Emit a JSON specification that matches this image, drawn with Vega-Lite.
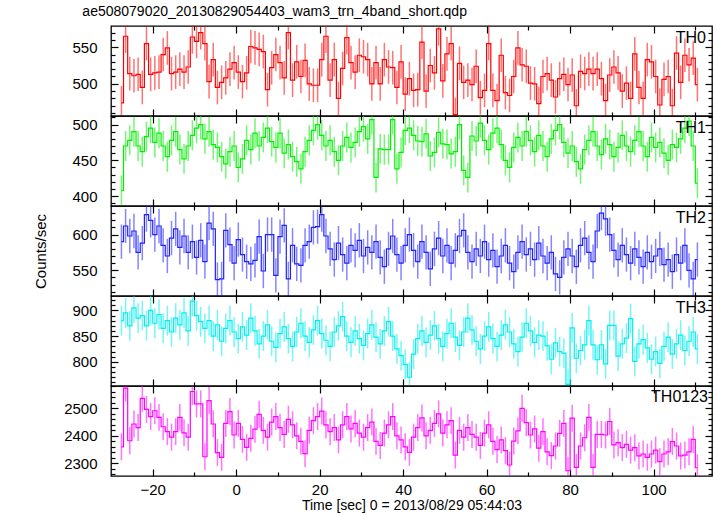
{
"$schema": "https://vega.github.io/schema/vega-lite/v6.json",
"autosize": {"type": "pad"},
"padding": {"left": 32, "top": 4, "right": 4, "bottom": 2},
"bounds": "flush",
"spacing": 0,
"title": {"text": "ae508079020_20130829054403_wam3_trn_4band_short.qdp", "anchor": "start", "frame": "bounds", "fontSize": 14, "fontWeight": "normal", "font": "Liberation Sans", "color": "black", "baseline": "alphabetic", "offset": -5, "dx": 50},
"config": {
  "view": {"stroke": "black", "strokeWidth": 1.3},
  "axis": {"labelFont": "Liberation Sans", "titleFont": "Liberation Sans", "labelColor": "black", "titleColor": "black", "tickColor": "black", "tickWidth": 1.2, "domain": false, "grid": false, "labelFontSize": 15, "titleFontSize": 15, "titleFontWeight": "normal"}
},
"datasets": {
"th0": [
{"t":-27.5,"v":474,"e":23},{"t":-26.5,"v":565,"e":23},{"t":-25.5,"v":514,"e":23},{"t":-24.5,"v":511,"e":23},{"t":-23.5,"v":513,"e":23},{"t":-22.5,"v":495,"e":23},{"t":-21.5,"v":555,"e":23},{"t":-20.5,"v":513,"e":23},{"t":-19.5,"v":515,"e":23},{"t":-18.5,"v":516,"e":23},
{"t":-17.5,"v":540,"e":23},{"t":-16.5,"v":549,"e":23},{"t":-15.5,"v":514,"e":23},{"t":-14.5,"v":516,"e":23},{"t":-13.5,"v":520,"e":23},{"t":-12.5,"v":516,"e":23},{"t":-11.5,"v":523,"e":23},{"t":-10.5,"v":564,"e":23},{"t":-9.5,"v":558,"e":23},{"t":-8.5,"v":570,"e":23},
{"t":-7.5,"v":555,"e":23},{"t":-6.5,"v":503,"e":23},{"t":-5.5,"v":533,"e":23},{"t":-4.5,"v":495,"e":23},{"t":-3.5,"v":502,"e":23},{"t":-2.5,"v":508,"e":23},{"t":-1.5,"v":520,"e":23},{"t":-0.5,"v":529,"e":23},{"t":0.5,"v":516,"e":23},{"t":1.5,"v":503,"e":23},
{"t":2.5,"v":515,"e":23},{"t":3.5,"v":551,"e":23},{"t":4.5,"v":549,"e":23},{"t":5.5,"v":547,"e":23},{"t":6.5,"v":544,"e":23},{"t":7.5,"v":492,"e":23},{"t":8.5,"v":522,"e":23},{"t":9.5,"v":540,"e":23},{"t":10.5,"v":529,"e":23},{"t":11.5,"v":508,"e":23},
{"t":12.5,"v":570,"e":23},{"t":13.5,"v":505,"e":23},{"t":14.5,"v":530,"e":23},{"t":15.5,"v":510,"e":23},{"t":16.5,"v":532,"e":23},{"t":17.5,"v":500,"e":23},{"t":18.5,"v":498,"e":23},{"t":19.5,"v":498,"e":23},{"t":20.5,"v":533,"e":23},{"t":21.5,"v":565,"e":23},
{"t":22.5,"v":505,"e":23},{"t":23.5,"v":533,"e":23},{"t":24.5,"v":480,"e":23},{"t":25.5,"v":521,"e":23},{"t":26.5,"v":563,"e":23},{"t":27.5,"v":529,"e":23},{"t":28.5,"v":516,"e":23},{"t":29.5,"v":539,"e":23},{"t":30.5,"v":537,"e":23},{"t":31.5,"v":533,"e":23},
{"t":32.5,"v":500,"e":23},{"t":33.5,"v":529,"e":23},{"t":34.5,"v":500,"e":23},{"t":35.5,"v":533,"e":23},{"t":36.5,"v":523,"e":23},{"t":37.5,"v":522,"e":23},{"t":38.5,"v":495,"e":23},{"t":39.5,"v":530,"e":23},{"t":40.5,"v":486,"e":23},{"t":41.5,"v":507,"e":23},
{"t":42.5,"v":491,"e":23},{"t":43.5,"v":492,"e":23},{"t":44.5,"v":557,"e":23},{"t":45.5,"v":490,"e":23},{"t":46.5,"v":525,"e":23},{"t":47.5,"v":515,"e":23},{"t":48.5,"v":575,"e":23},{"t":49.5,"v":504,"e":23},{"t":50.5,"v":541,"e":23},{"t":51.5,"v":555,"e":23},
{"t":52.5,"v":458,"e":23},{"t":53.5,"v":528,"e":23},{"t":54.5,"v":502,"e":23},{"t":55.5,"v":505,"e":23},{"t":56.5,"v":499,"e":23},{"t":57.5,"v":524,"e":23},{"t":58.5,"v":481,"e":23},{"t":59.5,"v":491,"e":23},{"t":60.5,"v":555,"e":23},{"t":61.5,"v":491,"e":23},
{"t":62.5,"v":477,"e":23},{"t":63.5,"v":539,"e":23},{"t":64.5,"v":488,"e":23},{"t":65.5,"v":484,"e":23},{"t":66.5,"v":510,"e":23},{"t":67.5,"v":549,"e":23},{"t":68.5,"v":526,"e":23},{"t":69.5,"v":524,"e":23},{"t":70.5,"v":501,"e":23},{"t":71.5,"v":500,"e":23},
{"t":72.5,"v":473,"e":23},{"t":73.5,"v":510,"e":23},{"t":74.5,"v":514,"e":23},{"t":75.5,"v":505,"e":23},{"t":76.5,"v":482,"e":23},{"t":77.5,"v":507,"e":23},{"t":78.5,"v":513,"e":23},{"t":79.5,"v":499,"e":23},{"t":80.5,"v":512,"e":23},{"t":81.5,"v":470,"e":23},
{"t":82.5,"v":517,"e":23},{"t":83.5,"v":514,"e":23},{"t":84.5,"v":520,"e":23},{"t":85.5,"v":514,"e":23},{"t":86.5,"v":520,"e":23},{"t":87.5,"v":507,"e":23},{"t":88.5,"v":477,"e":23},{"t":89.5,"v":512,"e":23},{"t":90.5,"v":523,"e":23},{"t":91.5,"v":515,"e":23},
{"t":92.5,"v":490,"e":23},{"t":93.5,"v":501,"e":23},{"t":94.5,"v":480,"e":23},{"t":95.5,"v":541,"e":23},{"t":96.5,"v":495,"e":23},{"t":97.5,"v":480,"e":23},{"t":98.5,"v":533,"e":23},{"t":99.5,"v":530,"e":23},{"t":100.5,"v":510,"e":23},{"t":101.5,"v":471,"e":23},
{"t":102.5,"v":506,"e":23},{"t":103.5,"v":510,"e":23},{"t":104.5,"v":470,"e":23},{"t":105.5,"v":542,"e":23},{"t":106.5,"v":502,"e":23},{"t":107.5,"v":539,"e":23},{"t":108.5,"v":526,"e":23},{"t":109.5,"v":535,"e":23},{"t":110.5,"v":499,"e":23}
],
"th1": [
{"t":-27.5,"v":408,"e":21},{"t":-26.5,"v":470,"e":21},{"t":-25.5,"v":478,"e":21},{"t":-24.5,"v":490,"e":21},{"t":-23.5,"v":470,"e":21},{"t":-22.5,"v":462,"e":21},{"t":-21.5,"v":483,"e":21},{"t":-20.5,"v":495,"e":21},{"t":-19.5,"v":475,"e":21},{"t":-18.5,"v":488,"e":21},
{"t":-17.5,"v":470,"e":21},{"t":-16.5,"v":455,"e":21},{"t":-15.5,"v":478,"e":21},{"t":-14.5,"v":490,"e":21},{"t":-13.5,"v":465,"e":21},{"t":-12.5,"v":452,"e":21},{"t":-11.5,"v":470,"e":21},{"t":-10.5,"v":485,"e":21},{"t":-9.5,"v":495,"e":21},{"t":-8.5,"v":500,"e":21},
{"t":-7.5,"v":480,"e":21},{"t":-6.5,"v":490,"e":21},{"t":-5.5,"v":472,"e":21},{"t":-4.5,"v":468,"e":21},{"t":-3.5,"v":455,"e":21},{"t":-2.5,"v":445,"e":21},{"t":-1.5,"v":462,"e":21},{"t":-0.5,"v":470,"e":21},{"t":0.5,"v":440,"e":21},{"t":1.5,"v":452,"e":21},
{"t":2.5,"v":478,"e":21},{"t":3.5,"v":465,"e":21},{"t":4.5,"v":488,"e":21},{"t":5.5,"v":470,"e":21},{"t":6.5,"v":482,"e":21},{"t":7.5,"v":495,"e":21},{"t":8.5,"v":476,"e":21},{"t":9.5,"v":468,"e":21},{"t":10.5,"v":488,"e":21},{"t":11.5,"v":460,"e":21},
{"t":12.5,"v":472,"e":21},{"t":13.5,"v":455,"e":21},{"t":14.5,"v":448,"e":21},{"t":15.5,"v":438,"e":21},{"t":16.5,"v":462,"e":21},{"t":17.5,"v":478,"e":21},{"t":18.5,"v":492,"e":21},{"t":19.5,"v":500,"e":21},{"t":20.5,"v":485,"e":21},{"t":21.5,"v":470,"e":21},
{"t":22.5,"v":478,"e":21},{"t":23.5,"v":462,"e":21},{"t":24.5,"v":450,"e":21},{"t":25.5,"v":470,"e":21},{"t":26.5,"v":482,"e":21},{"t":27.5,"v":468,"e":21},{"t":28.5,"v":475,"e":21},{"t":29.5,"v":490,"e":21},{"t":30.5,"v":497,"e":21},{"t":31.5,"v":480,"e":21},
{"t":32.5,"v":507,"e":21},{"t":33.5,"v":426,"e":21},{"t":34.5,"v":466,"e":21},{"t":35.5,"v":465,"e":21},{"t":36.5,"v":465,"e":21},{"t":37.5,"v":507,"e":21},{"t":38.5,"v":438,"e":21},{"t":39.5,"v":461,"e":21},{"t":40.5,"v":492,"e":21},{"t":41.5,"v":495,"e":21},
{"t":42.5,"v":485,"e":21},{"t":43.5,"v":477,"e":21},{"t":44.5,"v":476,"e":21},{"t":45.5,"v":487,"e":21},{"t":46.5,"v":456,"e":21},{"t":47.5,"v":461,"e":21},{"t":48.5,"v":489,"e":21},{"t":49.5,"v":473,"e":21},{"t":50.5,"v":472,"e":21},{"t":51.5,"v":459,"e":21},
{"t":52.5,"v":462,"e":21},{"t":53.5,"v":500,"e":21},{"t":54.5,"v":436,"e":21},{"t":55.5,"v":426,"e":21},{"t":56.5,"v":484,"e":21},{"t":57.5,"v":477,"e":21},{"t":58.5,"v":502,"e":21},{"t":59.5,"v":478,"e":21},{"t":60.5,"v":465,"e":21},{"t":61.5,"v":488,"e":21},
{"t":62.5,"v":495,"e":21},{"t":63.5,"v":472,"e":21},{"t":64.5,"v":450,"e":21},{"t":65.5,"v":440,"e":21},{"t":66.5,"v":468,"e":21},{"t":67.5,"v":482,"e":21},{"t":68.5,"v":470,"e":21},{"t":69.5,"v":490,"e":21},{"t":70.5,"v":478,"e":21},{"t":71.5,"v":462,"e":21},
{"t":72.5,"v":485,"e":21},{"t":73.5,"v":470,"e":21},{"t":74.5,"v":455,"e":21},{"t":75.5,"v":480,"e":21},{"t":76.5,"v":492,"e":21},{"t":77.5,"v":500,"e":21},{"t":78.5,"v":475,"e":21},{"t":79.5,"v":460,"e":21},{"t":80.5,"v":470,"e":21},{"t":81.5,"v":448,"e":21},
{"t":82.5,"v":438,"e":21},{"t":83.5,"v":465,"e":21},{"t":84.5,"v":478,"e":21},{"t":85.5,"v":490,"e":21},{"t":86.5,"v":470,"e":21},{"t":87.5,"v":458,"e":21},{"t":88.5,"v":480,"e":21},{"t":89.5,"v":472,"e":21},{"t":90.5,"v":455,"e":21},{"t":91.5,"v":468,"e":21},
{"t":92.5,"v":485,"e":21},{"t":93.5,"v":470,"e":21},{"t":94.5,"v":462,"e":21},{"t":95.5,"v":478,"e":21},{"t":96.5,"v":490,"e":21},{"t":97.5,"v":470,"e":21},{"t":98.5,"v":455,"e":21},{"t":99.5,"v":482,"e":21},{"t":100.5,"v":468,"e":21},{"t":101.5,"v":475,"e":21},
{"t":102.5,"v":460,"e":21},{"t":103.5,"v":450,"e":21},{"t":104.5,"v":472,"e":21},{"t":105.5,"v":468,"e":21},{"t":106.5,"v":480,"e":21},{"t":107.5,"v":495,"e":21},{"t":108.5,"v":505,"e":21},{"t":109.5,"v":470,"e":21},{"t":110.5,"v":418,"e":21}
],
"th2": [
{"t":-27.5,"v":590,"e":24},{"t":-26.5,"v":612,"e":24},{"t":-25.5,"v":598,"e":24},{"t":-24.5,"v":605,"e":24},{"t":-23.5,"v":575,"e":24},{"t":-22.5,"v":588,"e":24},{"t":-21.5,"v":628,"e":24},{"t":-20.5,"v":620,"e":24},{"t":-19.5,"v":600,"e":24},{"t":-18.5,"v":612,"e":24},
{"t":-17.5,"v":585,"e":24},{"t":-16.5,"v":570,"e":24},{"t":-15.5,"v":595,"e":24},{"t":-14.5,"v":608,"e":24},{"t":-13.5,"v":582,"e":24},{"t":-12.5,"v":598,"e":24},{"t":-11.5,"v":575,"e":24},{"t":-10.5,"v":590,"e":24},{"t":-9.5,"v":568,"e":24},{"t":-8.5,"v":592,"e":24},
{"t":-7.5,"v":562,"e":24},{"t":-6.5,"v":616,"e":24},{"t":-5.5,"v":608,"e":24},{"t":-4.5,"v":537,"e":24},{"t":-3.5,"v":538,"e":24},{"t":-2.5,"v":606,"e":24},{"t":-1.5,"v":586,"e":24},{"t":-0.5,"v":560,"e":24},{"t":0.5,"v":593,"e":24},{"t":1.5,"v":572,"e":24},
{"t":2.5,"v":562,"e":24},{"t":3.5,"v":559,"e":24},{"t":4.5,"v":564,"e":24},{"t":5.5,"v":597,"e":24},{"t":6.5,"v":549,"e":24},{"t":7.5,"v":600,"e":24},{"t":8.5,"v":600,"e":24},{"t":9.5,"v":543,"e":24},{"t":10.5,"v":597,"e":24},{"t":11.5,"v":613,"e":24},
{"t":12.5,"v":538,"e":24},{"t":13.5,"v":585,"e":24},{"t":14.5,"v":559,"e":24},{"t":15.5,"v":557,"e":24},{"t":16.5,"v":585,"e":24},{"t":17.5,"v":590,"e":24},{"t":18.5,"v":610,"e":24},{"t":19.5,"v":611,"e":24},{"t":20.5,"v":628,"e":24},{"t":21.5,"v":598,"e":24},
{"t":22.5,"v":580,"e":24},{"t":23.5,"v":565,"e":24},{"t":24.5,"v":588,"e":24},{"t":25.5,"v":572,"e":24},{"t":26.5,"v":560,"e":24},{"t":27.5,"v":585,"e":24},{"t":28.5,"v":578,"e":24},{"t":29.5,"v":592,"e":24},{"t":30.5,"v":570,"e":24},{"t":31.5,"v":582,"e":24},
{"t":32.5,"v":575,"e":24},{"t":33.5,"v":590,"e":24},{"t":34.5,"v":568,"e":24},{"t":35.5,"v":555,"e":24},{"t":36.5,"v":580,"e":24},{"t":37.5,"v":598,"e":24},{"t":38.5,"v":572,"e":24},{"t":39.5,"v":560,"e":24},{"t":40.5,"v":585,"e":24},{"t":41.5,"v":600,"e":24},
{"t":42.5,"v":578,"e":24},{"t":43.5,"v":562,"e":24},{"t":44.5,"v":590,"e":24},{"t":45.5,"v":575,"e":24},{"t":46.5,"v":552,"e":24},{"t":47.5,"v":580,"e":24},{"t":48.5,"v":595,"e":24},{"t":49.5,"v":570,"e":24},{"t":50.5,"v":585,"e":24},{"t":51.5,"v":560,"e":24},
{"t":52.5,"v":578,"e":24},{"t":53.5,"v":598,"e":24},{"t":54.5,"v":606,"e":24},{"t":55.5,"v":575,"e":24},{"t":56.5,"v":562,"e":24},{"t":57.5,"v":580,"e":24},{"t":58.5,"v":570,"e":24},{"t":59.5,"v":590,"e":24},{"t":60.5,"v":565,"e":24},{"t":61.5,"v":578,"e":24},
{"t":62.5,"v":555,"e":24},{"t":63.5,"v":570,"e":24},{"t":64.5,"v":585,"e":24},{"t":65.5,"v":560,"e":24},{"t":66.5,"v":548,"e":24},{"t":67.5,"v":575,"e":24},{"t":68.5,"v":590,"e":24},{"t":69.5,"v":572,"e":24},{"t":70.5,"v":580,"e":24},{"t":71.5,"v":565,"e":24},
{"t":72.5,"v":588,"e":24},{"t":73.5,"v":570,"e":24},{"t":74.5,"v":560,"e":24},{"t":75.5,"v":575,"e":24},{"t":76.5,"v":545,"e":24},{"t":77.5,"v":540,"e":24},{"t":78.5,"v":568,"e":24},{"t":79.5,"v":580,"e":24},{"t":80.5,"v":570,"e":24},{"t":81.5,"v":555,"e":24},
{"t":82.5,"v":585,"e":24},{"t":83.5,"v":595,"e":24},{"t":84.5,"v":575,"e":24},{"t":85.5,"v":562,"e":24},{"t":86.5,"v":605,"e":24},{"t":87.5,"v":630,"e":24},{"t":88.5,"v":622,"e":24},{"t":89.5,"v":600,"e":24},{"t":90.5,"v":578,"e":24},{"t":91.5,"v":565,"e":24},
{"t":92.5,"v":585,"e":24},{"t":93.5,"v":572,"e":24},{"t":94.5,"v":560,"e":24},{"t":95.5,"v":580,"e":24},{"t":96.5,"v":568,"e":24},{"t":97.5,"v":555,"e":24},{"t":98.5,"v":575,"e":24},{"t":99.5,"v":562,"e":24},{"t":100.5,"v":570,"e":24},{"t":101.5,"v":580,"e":24},
{"t":102.5,"v":558,"e":24},{"t":103.5,"v":565,"e":24},{"t":104.5,"v":548,"e":24},{"t":105.5,"v":572,"e":24},{"t":106.5,"v":560,"e":24},{"t":107.5,"v":585,"e":24},{"t":108.5,"v":550,"e":24},{"t":109.5,"v":538,"e":24},{"t":110.5,"v":565,"e":24}
],
"th3": [
{"t":-27.5,"v":880,"e":29},{"t":-26.5,"v":895,"e":29},{"t":-25.5,"v":870,"e":29},{"t":-24.5,"v":905,"e":29},{"t":-23.5,"v":885,"e":29},{"t":-22.5,"v":890,"e":29},{"t":-21.5,"v":870,"e":29},{"t":-20.5,"v":900,"e":29},{"t":-19.5,"v":875,"e":29},{"t":-18.5,"v":892,"e":29},
{"t":-17.5,"v":865,"e":29},{"t":-16.5,"v":880,"e":29},{"t":-15.5,"v":858,"e":29},{"t":-14.5,"v":885,"e":29},{"t":-13.5,"v":872,"e":29},{"t":-12.5,"v":895,"e":29},{"t":-11.5,"v":860,"e":29},{"t":-10.5,"v":918,"e":29},{"t":-9.5,"v":890,"e":29},{"t":-8.5,"v":878,"e":29},
{"t":-7.5,"v":865,"e":29},{"t":-6.5,"v":880,"e":29},{"t":-5.5,"v":850,"e":29},{"t":-4.5,"v":872,"e":29},{"t":-3.5,"v":840,"e":29},{"t":-2.5,"v":865,"e":29},{"t":-1.5,"v":880,"e":29},{"t":-0.5,"v":858,"e":29},{"t":0.5,"v":845,"e":29},{"t":1.5,"v":868,"e":29},
{"t":2.5,"v":852,"e":29},{"t":3.5,"v":885,"e":29},{"t":4.5,"v":860,"e":29},{"t":5.5,"v":835,"e":29},{"t":6.5,"v":850,"e":29},{"t":7.5,"v":872,"e":29},{"t":8.5,"v":840,"e":29},{"t":9.5,"v":828,"e":29},{"t":10.5,"v":855,"e":29},{"t":11.5,"v":868,"e":29},
{"t":12.5,"v":845,"e":29},{"t":13.5,"v":830,"e":29},{"t":14.5,"v":858,"e":29},{"t":15.5,"v":875,"e":29},{"t":16.5,"v":850,"e":29},{"t":17.5,"v":838,"e":29},{"t":18.5,"v":862,"e":29},{"t":19.5,"v":880,"e":29},{"t":20.5,"v":855,"e":29},{"t":21.5,"v":842,"e":29},
{"t":22.5,"v":830,"e":29},{"t":23.5,"v":858,"e":29},{"t":24.5,"v":870,"e":29},{"t":25.5,"v":888,"e":29},{"t":26.5,"v":850,"e":29},{"t":27.5,"v":838,"e":29},{"t":28.5,"v":860,"e":29},{"t":29.5,"v":845,"e":29},{"t":30.5,"v":832,"e":29},{"t":31.5,"v":855,"e":29},
{"t":32.5,"v":872,"e":29},{"t":33.5,"v":848,"e":29},{"t":34.5,"v":835,"e":29},{"t":35.5,"v":860,"e":29},{"t":36.5,"v":878,"e":29},{"t":37.5,"v":850,"e":29},{"t":38.5,"v":825,"e":29},{"t":39.5,"v":812,"e":29},{"t":40.5,"v":795,"e":29},{"t":41.5,"v":770,"e":29},
{"t":42.5,"v":815,"e":29},{"t":43.5,"v":845,"e":29},{"t":44.5,"v":860,"e":29},{"t":45.5,"v":838,"e":29},{"t":46.5,"v":852,"e":29},{"t":47.5,"v":870,"e":29},{"t":48.5,"v":845,"e":29},{"t":49.5,"v":830,"e":29},{"t":50.5,"v":855,"e":29},{"t":51.5,"v":875,"e":29},
{"t":52.5,"v":848,"e":29},{"t":53.5,"v":832,"e":29},{"t":54.5,"v":858,"e":29},{"t":55.5,"v":885,"e":29},{"t":56.5,"v":862,"e":29},{"t":57.5,"v":840,"e":29},{"t":58.5,"v":825,"e":29},{"t":59.5,"v":850,"e":29},{"t":60.5,"v":868,"e":29},{"t":61.5,"v":845,"e":29},
{"t":62.5,"v":830,"e":29},{"t":63.5,"v":852,"e":29},{"t":64.5,"v":872,"e":29},{"t":65.5,"v":858,"e":29},{"t":66.5,"v":835,"e":29},{"t":67.5,"v":820,"e":29},{"t":68.5,"v":848,"e":29},{"t":69.5,"v":875,"e":29},{"t":70.5,"v":860,"e":29},{"t":71.5,"v":838,"e":29},
{"t":72.5,"v":852,"e":29},{"t":73.5,"v":850,"e":29},{"t":74.5,"v":831,"e":29},{"t":75.5,"v":805,"e":29},{"t":76.5,"v":837,"e":29},{"t":77.5,"v":820,"e":29},{"t":78.5,"v":817,"e":29},{"t":79.5,"v":756,"e":29},{"t":80.5,"v":866,"e":29},{"t":81.5,"v":807,"e":29},
{"t":82.5,"v":822,"e":29},{"t":83.5,"v":833,"e":29},{"t":84.5,"v":880,"e":29},{"t":85.5,"v":833,"e":29},{"t":86.5,"v":804,"e":29},{"t":87.5,"v":833,"e":29},{"t":88.5,"v":796,"e":29},{"t":89.5,"v":871,"e":29},{"t":90.5,"v":871,"e":29},{"t":91.5,"v":811,"e":29},
{"t":92.5,"v":835,"e":29},{"t":93.5,"v":846,"e":29},{"t":94.5,"v":884,"e":29},{"t":95.5,"v":801,"e":29},{"t":96.5,"v":835,"e":29},{"t":97.5,"v":843,"e":29},{"t":98.5,"v":827,"e":29},{"t":99.5,"v":805,"e":29},{"t":100.5,"v":820,"e":29},{"t":101.5,"v":797,"e":29},
{"t":102.5,"v":830,"e":29},{"t":103.5,"v":848,"e":29},{"t":104.5,"v":815,"e":29},{"t":105.5,"v":835,"e":29},{"t":106.5,"v":852,"e":29},{"t":107.5,"v":822,"e":29},{"t":108.5,"v":840,"e":29},{"t":109.5,"v":858,"e":29},{"t":110.5,"v":825,"e":29}
],
"th0123": [
{"t":-27.5,"v":2360,"e":49},{"t":-26.5,"v":2573,"e":49},{"t":-25.5,"v":2382,"e":49},{"t":-24.5,"v":2443,"e":49},{"t":-23.5,"v":2430,"e":49},{"t":-22.5,"v":2536,"e":49},{"t":-21.5,"v":2496,"e":49},{"t":-20.5,"v":2470,"e":49},{"t":-19.5,"v":2491,"e":49},{"t":-18.5,"v":2467,"e":49},
{"t":-17.5,"v":2433,"e":49},{"t":-16.5,"v":2415,"e":49},{"t":-15.5,"v":2395,"e":49},{"t":-14.5,"v":2415,"e":49},{"t":-13.5,"v":2467,"e":49},{"t":-12.5,"v":2411,"e":49},{"t":-11.5,"v":2395,"e":49},{"t":-10.5,"v":2561,"e":49},{"t":-9.5,"v":2516,"e":49},{"t":-8.5,"v":2516,"e":49},
{"t":-7.5,"v":2324,"e":49},{"t":-6.5,"v":2528,"e":49},{"t":-5.5,"v":2443,"e":49},{"t":-4.5,"v":2339,"e":49},{"t":-3.5,"v":2322,"e":49},{"t":-2.5,"v":2445,"e":49},{"t":-1.5,"v":2488,"e":49},{"t":-0.5,"v":2403,"e":49},{"t":0.5,"v":2445,"e":49},{"t":1.5,"v":2387,"e":49},
{"t":2.5,"v":2358,"e":49},{"t":3.5,"v":2391,"e":49},{"t":4.5,"v":2424,"e":49},{"t":5.5,"v":2478,"e":49},{"t":6.5,"v":2420,"e":49},{"t":7.5,"v":2395,"e":49},{"t":8.5,"v":2450,"e":49},{"t":9.5,"v":2470,"e":49},{"t":10.5,"v":2430,"e":49},{"t":11.5,"v":2405,"e":49},
{"t":12.5,"v":2460,"e":49},{"t":13.5,"v":2440,"e":49},{"t":14.5,"v":2400,"e":49},{"t":15.5,"v":2380,"e":49},{"t":16.5,"v":2335,"e":49},{"t":17.5,"v":2420,"e":49},{"t":18.5,"v":2455,"e":49},{"t":19.5,"v":2470,"e":49},{"t":20.5,"v":2490,"e":49},{"t":21.5,"v":2440,"e":49},
{"t":22.5,"v":2415,"e":49},{"t":23.5,"v":2430,"e":49},{"t":24.5,"v":2385,"e":49},{"t":25.5,"v":2440,"e":49},{"t":26.5,"v":2470,"e":49},{"t":27.5,"v":2425,"e":49},{"t":28.5,"v":2445,"e":49},{"t":29.5,"v":2410,"e":49},{"t":30.5,"v":2395,"e":49},{"t":31.5,"v":2430,"e":49},
{"t":32.5,"v":2450,"e":49},{"t":33.5,"v":2380,"e":49},{"t":34.5,"v":2365,"e":49},{"t":35.5,"v":2410,"e":49},{"t":36.5,"v":2440,"e":49},{"t":37.5,"v":2470,"e":49},{"t":38.5,"v":2400,"e":49},{"t":39.5,"v":2385,"e":49},{"t":40.5,"v":2360,"e":49},{"t":41.5,"v":2340,"e":49},
{"t":42.5,"v":2395,"e":49},{"t":43.5,"v":2430,"e":49},{"t":44.5,"v":2465,"e":49},{"t":45.5,"v":2400,"e":49},{"t":46.5,"v":2420,"e":49},{"t":47.5,"v":2445,"e":49},{"t":48.5,"v":2480,"e":49},{"t":49.5,"v":2410,"e":49},{"t":50.5,"v":2440,"e":49},{"t":51.5,"v":2455,"e":49},
{"t":52.5,"v":2330,"e":49},{"t":53.5,"v":2420,"e":49},{"t":54.5,"v":2395,"e":49},{"t":55.5,"v":2430,"e":49},{"t":56.5,"v":2405,"e":49},{"t":57.5,"v":2395,"e":49},{"t":58.5,"v":2365,"e":49},{"t":59.5,"v":2410,"e":49},{"t":60.5,"v":2440,"e":49},{"t":61.5,"v":2380,"e":49},
{"t":62.5,"v":2350,"e":49},{"t":63.5,"v":2385,"e":49},{"t":64.5,"v":2346,"e":49},{"t":65.5,"v":2294,"e":49},{"t":66.5,"v":2381,"e":49},{"t":67.5,"v":2418,"e":49},{"t":68.5,"v":2500,"e":49},{"t":69.5,"v":2448,"e":49},{"t":70.5,"v":2403,"e":49},{"t":71.5,"v":2425,"e":49},
{"t":72.5,"v":2355,"e":49},{"t":73.5,"v":2415,"e":49},{"t":74.5,"v":2342,"e":49},{"t":75.5,"v":2328,"e":49},{"t":76.5,"v":2363,"e":49},{"t":77.5,"v":2409,"e":49},{"t":78.5,"v":2445,"e":49},{"t":79.5,"v":2273,"e":49},{"t":80.5,"v":2464,"e":49},{"t":81.5,"v":2285,"e":49},
{"t":82.5,"v":2363,"e":49},{"t":83.5,"v":2393,"e":49},{"t":84.5,"v":2467,"e":49},{"t":85.5,"v":2285,"e":49},{"t":86.5,"v":2405,"e":49},{"t":87.5,"v":2405,"e":49},{"t":88.5,"v":2403,"e":49},{"t":89.5,"v":2452,"e":49},{"t":90.5,"v":2367,"e":49},{"t":91.5,"v":2375,"e":49},
{"t":92.5,"v":2357,"e":49},{"t":93.5,"v":2369,"e":49},{"t":94.5,"v":2348,"e":49},{"t":95.5,"v":2357,"e":49},{"t":96.5,"v":2327,"e":49},{"t":97.5,"v":2334,"e":49},{"t":98.5,"v":2322,"e":49},{"t":99.5,"v":2334,"e":49},{"t":100.5,"v":2348,"e":49},{"t":101.5,"v":2306,"e":49},
{"t":102.5,"v":2334,"e":49},{"t":103.5,"v":2342,"e":49},{"t":104.5,"v":2379,"e":49},{"t":105.5,"v":2363,"e":49},{"t":106.5,"v":2327,"e":49},{"t":107.5,"v":2330,"e":49},{"t":108.5,"v":2342,"e":49},{"t":109.5,"v":2387,"e":49},{"t":110.5,"v":2284,"e":49}
]
},
"vconcat": [
{
  "width": 601, "height": 90,
  "data": {"name": "th0"},
  "layer": [
    {"mark": {"type": "errorbar", "color": "#ff0000", "opacity": 0.55, "thickness": 1.5, "clip": true},
     "encoding": {
       "x": {"field": "t", "type": "quantitative", "scale": {"domain": [-30, 114], "nice": false, "zero": false},
             "axis": {"orient": "bottom", "values": [-20,-10,0,10,20,30,40,50,60,70,80,90,100,110], "labels": false, "title": null, "tickSize": {"condition": {"test": "datum.value % 20 === 0", "value": -7}, "value": -4}}},
       "y": {"field": "v", "type": "quantitative", "scale": {"domain": [456, 579], "nice": false, "zero": false},
             "axis": {"orient": "left", "format": "d", "values": [460,470,480,490,500,510,520,530,540,550,560,570], "labelExpr": "datum.value % 50 === 0 ? datum.label : ''", "labelPadding": 21, "minExtent": 45, "maxExtent": 45, "title": null, "tickSize": {"condition": {"test": "datum.value % 50 === 0", "value": -7}, "value": -4}}},
       "yError": {"field": "e"}}},
    {"mark": {"type": "line", "interpolate": "step", "color": "#ff0000", "strokeWidth": 1.2, "clip": true},
     "encoding": {
       "x": {"field": "t", "type": "quantitative", "axis": {"orient": "top", "values": [-20,-10,0,10,20,30,40,50,60,70,80,90,100,110], "labels": false, "title": null, "tickSize": {"condition": {"test": "datum.value % 20 === 0", "value": -7}, "value": -4}}},
       "y": {"field": "v", "type": "quantitative", "axis": {"orient": "right", "values": [460,470,480,490,500,510,520,530,540,550,560,570], "labels": false, "title": null, "tickSize": {"condition": {"test": "datum.value % 50 === 0", "value": -7}, "value": -4}}}}},
    {"data": {"values": [{}]},
     "mark": {"type": "text", "align": "right", "baseline": "alphabetic", "dx": -6, "dy": 17, "fontSize": 16, "font": "Liberation Sans", "color": "black"},
     "encoding": {"x": {"datum": 114, "type": "quantitative", "axis": null}, "y": {"datum": 579, "type": "quantitative", "axis": null}, "text": {"value": "TH0"}}}
  ],
  "resolve": {"axis": {"x": "independent", "y": "independent"}}
},
{
  "width": 601, "height": 90,
  "data": {"name": "th1"},
  "layer": [
    {"mark": {"type": "errorbar", "color": "#00ee00", "opacity": 0.55, "thickness": 1.5, "clip": true},
     "encoding": {
       "x": {"field": "t", "type": "quantitative", "scale": {"domain": [-30, 114], "nice": false, "zero": false},
             "axis": {"orient": "bottom", "values": [-20,-10,0,10,20,30,40,50,60,70,80,90,100,110], "labels": false, "title": null, "tickSize": {"condition": {"test": "datum.value % 20 === 0", "value": -7}, "value": -4}}},
       "y": {"field": "v", "type": "quantitative", "scale": {"domain": [386, 512], "nice": false, "zero": false},
             "axis": {"orient": "left", "format": "d", "values": [390,400,410,420,430,440,450,460,470,480,490,500,510], "labelExpr": "datum.value % 50 === 0 ? datum.label : ''", "labelPadding": 21, "minExtent": 45, "maxExtent": 45, "title": null, "tickSize": {"condition": {"test": "datum.value % 50 === 0", "value": -7}, "value": -4}}},
       "yError": {"field": "e"}}},
    {"mark": {"type": "line", "interpolate": "step", "color": "#00ee00", "strokeWidth": 1.2, "clip": true},
     "encoding": {
       "x": {"field": "t", "type": "quantitative", "axis": {"orient": "top", "values": [-20,-10,0,10,20,30,40,50,60,70,80,90,100,110], "labels": false, "title": null, "tickSize": {"condition": {"test": "datum.value % 20 === 0", "value": -7}, "value": -4}}},
       "y": {"field": "v", "type": "quantitative", "axis": {"orient": "right", "values": [390,400,410,420,430,440,450,460,470,480,490,500,510], "labels": false, "title": null, "tickSize": {"condition": {"test": "datum.value % 50 === 0", "value": -7}, "value": -4}}}}},
    {"data": {"values": [{}]},
     "mark": {"type": "text", "align": "right", "baseline": "alphabetic", "dx": -6, "dy": 17, "fontSize": 16, "font": "Liberation Sans", "color": "black"},
     "encoding": {"x": {"datum": 114, "type": "quantitative", "axis": null}, "y": {"datum": 512, "type": "quantitative", "axis": null}, "text": {"value": "TH1"}}}
  ],
  "resolve": {"axis": {"x": "independent", "y": "independent"}}
},
{
  "width": 601, "height": 90,
  "data": {"name": "th2"},
  "layer": [
    {"mark": {"type": "errorbar", "color": "#2020ff", "opacity": 0.55, "thickness": 1.5, "clip": true},
     "encoding": {
       "x": {"field": "t", "type": "quantitative", "scale": {"domain": [-30, 114], "nice": false, "zero": false},
             "axis": {"orient": "bottom", "values": [-20,-10,0,10,20,30,40,50,60,70,80,90,100,110], "labels": false, "title": null, "tickSize": {"condition": {"test": "datum.value % 20 === 0", "value": -7}, "value": -4}}},
       "y": {"field": "v", "type": "quantitative", "scale": {"domain": [514, 640], "nice": false, "zero": false},
             "axis": {"orient": "left", "format": "d", "values": [520,530,540,550,560,570,580,590,600,610,620,630], "labelExpr": "datum.value % 50 === 0 ? datum.label : ''", "labelPadding": 21, "minExtent": 45, "maxExtent": 45, "title": "Counts/sec", "titlePadding": 18, "tickSize": {"condition": {"test": "datum.value % 50 === 0", "value": -7}, "value": -4}}},
       "yError": {"field": "e"}}},
    {"mark": {"type": "line", "interpolate": "step", "color": "#2020ff", "strokeWidth": 1.2, "clip": true},
     "encoding": {
       "x": {"field": "t", "type": "quantitative", "axis": {"orient": "top", "values": [-20,-10,0,10,20,30,40,50,60,70,80,90,100,110], "labels": false, "title": null, "tickSize": {"condition": {"test": "datum.value % 20 === 0", "value": -7}, "value": -4}}},
       "y": {"field": "v", "type": "quantitative", "axis": {"orient": "right", "values": [520,530,540,550,560,570,580,590,600,610,620,630], "labels": false, "title": null, "tickSize": {"condition": {"test": "datum.value % 50 === 0", "value": -7}, "value": -4}}}}},
    {"data": {"values": [{}]},
     "mark": {"type": "text", "align": "right", "baseline": "alphabetic", "dx": -6, "dy": 17, "fontSize": 16, "font": "Liberation Sans", "color": "black"},
     "encoding": {"x": {"datum": 114, "type": "quantitative", "axis": null}, "y": {"datum": 640, "type": "quantitative", "axis": null}, "text": {"value": "TH2"}}}
  ],
  "resolve": {"axis": {"x": "independent", "y": "independent"}}
},
{
  "width": 601, "height": 90,
  "data": {"name": "th3"},
  "layer": [
    {"mark": {"type": "errorbar", "color": "#00eeee", "opacity": 0.55, "thickness": 1.5, "clip": true},
     "encoding": {
       "x": {"field": "t", "type": "quantitative", "scale": {"domain": [-30, 114], "nice": false, "zero": false},
             "axis": {"orient": "bottom", "values": [-20,-10,0,10,20,30,40,50,60,70,80,90,100,110], "labels": false, "title": null, "tickSize": {"condition": {"test": "datum.value % 20 === 0", "value": -7}, "value": -4}}},
       "y": {"field": "v", "type": "quantitative", "scale": {"domain": [753, 928], "nice": false, "zero": false},
             "axis": {"orient": "left", "format": "d", "values": [760,770,780,790,800,810,820,830,840,850,860,870,880,890,900,910,920], "labelExpr": "datum.value % 50 === 0 ? datum.label : ''", "labelPadding": 21, "minExtent": 45, "maxExtent": 45, "title": null, "tickSize": {"condition": {"test": "datum.value % 50 === 0", "value": -7}, "value": -4}}},
       "yError": {"field": "e"}}},
    {"mark": {"type": "line", "interpolate": "step", "color": "#00eeee", "strokeWidth": 1.2, "clip": true},
     "encoding": {
       "x": {"field": "t", "type": "quantitative", "axis": {"orient": "top", "values": [-20,-10,0,10,20,30,40,50,60,70,80,90,100,110], "labels": false, "title": null, "tickSize": {"condition": {"test": "datum.value % 20 === 0", "value": -7}, "value": -4}}},
       "y": {"field": "v", "type": "quantitative", "axis": {"orient": "right", "values": [760,770,780,790,800,810,820,830,840,850,860,870,880,890,900,910,920], "labels": false, "title": null, "tickSize": {"condition": {"test": "datum.value % 50 === 0", "value": -7}, "value": -4}}}}},
    {"data": {"values": [{}]},
     "mark": {"type": "text", "align": "right", "baseline": "alphabetic", "dx": -6, "dy": 17, "fontSize": 16, "font": "Liberation Sans", "color": "black"},
     "encoding": {"x": {"datum": 114, "type": "quantitative", "axis": null}, "y": {"datum": 928, "type": "quantitative", "axis": null}, "text": {"value": "TH3"}}}
  ],
  "resolve": {"axis": {"x": "independent", "y": "independent"}}
},
{
  "width": 601, "height": 90,
  "data": {"name": "th0123"},
  "layer": [
    {"mark": {"type": "errorbar", "color": "#ff00ff", "opacity": 0.55, "thickness": 1.5, "clip": true},
     "encoding": {
       "x": {"field": "t", "type": "quantitative", "scale": {"domain": [-30, 114], "nice": false, "zero": false},
             "axis": {"orient": "bottom", "values": [-20,-10,0,10,20,30,40,50,60,70,80,90,100,110], "labelExpr": "datum.value % 20 === 0 ? datum.label : ''", "labelPadding": 13, "labelFlush": false, "labelOverlap": false, "title": "Time [sec] 0 = 2013/08/29 05:44:03", "titleFontSize": 14, "titlePadding": -2, "tickSize": {"condition": {"test": "datum.value % 20 === 0", "value": -7}, "value": -4}}},
       "y": {"field": "v", "type": "quantitative", "scale": {"domain": [2254, 2581], "nice": false, "zero": false},
             "axis": {"orient": "left", "format": "d", "values": [2260,2280,2300,2320,2340,2360,2380,2400,2420,2440,2460,2480,2500,2520,2540,2560,2580], "labelExpr": "datum.value % 100 === 0 ? datum.label : ''", "labelPadding": 21, "minExtent": 45, "maxExtent": 45, "title": null, "tickSize": {"condition": {"test": "datum.value % 100 === 0", "value": -7}, "value": -4}}},
       "yError": {"field": "e"}}},
    {"mark": {"type": "line", "interpolate": "step", "color": "#ff00ff", "strokeWidth": 1.2, "clip": true},
     "encoding": {
       "x": {"field": "t", "type": "quantitative", "axis": {"orient": "top", "values": [-20,-10,0,10,20,30,40,50,60,70,80,90,100,110], "labels": false, "title": null, "tickSize": {"condition": {"test": "datum.value % 20 === 0", "value": -7}, "value": -4}}},
       "y": {"field": "v", "type": "quantitative", "axis": {"orient": "right", "values": [2260,2280,2300,2320,2340,2360,2380,2400,2420,2440,2460,2480,2500,2520,2540,2560,2580], "labels": false, "title": null, "tickSize": {"condition": {"test": "datum.value % 100 === 0", "value": -7}, "value": -4}}}}},
    {"data": {"values": [{}]},
     "mark": {"type": "text", "align": "right", "baseline": "alphabetic", "dx": -4, "dy": 16, "fontSize": 16, "font": "Liberation Sans", "color": "black"},
     "encoding": {"x": {"datum": 114, "type": "quantitative", "axis": null}, "y": {"datum": 2581, "type": "quantitative", "axis": null}, "text": {"value": "TH0123"}}}
  ],
  "resolve": {"axis": {"x": "independent", "y": "independent"}}
}
]
}
